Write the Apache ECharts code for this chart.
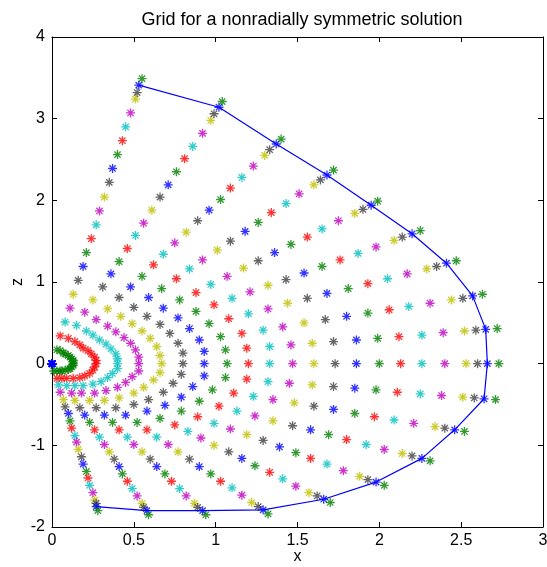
<!DOCTYPE html>
<html>
<head>
    <meta charset="utf-8">
    <title>Grid</title>
    <script src="https://cdn.jsdelivr.net/npm/echarts@6/dist/echarts.min.js"></script>
</head>
<body style="margin:0">
    <div id="main" style="width: 547px;height:567px;"></div>
    <script type="text/javascript">
        // one pair of arrays per ray, 23 points each (inner -> outer)
        var r01x = [0, 0.03, 0.05, 0.08, 0.11, 0.13, 0.16, 0.19, 0.21, 0.24, 0.27, 0.29, 0.32, 0.35, 0.37, 0.40, 0.43, 0.45, 0.48, 0.51, 0.52, 0.53, 0.55];
        var r01z = [0, 0.17, 0.34, 0.51, 0.68, 0.85, 1.02, 1.19, 1.36, 1.53, 1.70, 1.87, 2.04, 2.22, 2.39, 2.56, 2.73, 2.90, 3.07, 3.24, 3.32, 3.41, 3.49];
        var r02x = [0, 0.05, 0.10, 0.15, 0.20, 0.25, 0.31, 0.36, 0.41, 0.46, 0.51, 0.56, 0.61, 0.66, 0.71, 0.76, 0.81, 0.86, 0.92, 0.97, 0.99, 1.02, 1.04];
        var r02z = [0, 0.16, 0.31, 0.47, 0.63, 0.78, 0.94, 1.10, 1.25, 1.41, 1.57, 1.72, 1.88, 2.04, 2.19, 2.35, 2.51, 2.66, 2.82, 2.98, 3.06, 3.14, 3.21];
        var r03x = [0, 0.07, 0.14, 0.21, 0.27, 0.34, 0.41, 0.48, 0.55, 0.62, 0.68, 0.75, 0.82, 0.89, 0.96, 1.03, 1.09, 1.16, 1.23, 1.30, 1.33, 1.37, 1.40];
        var r03z = [0, 0.13, 0.27, 0.40, 0.54, 0.67, 0.81, 0.94, 1.07, 1.21, 1.34, 1.48, 1.61, 1.75, 1.88, 2.01, 2.15, 2.28, 2.42, 2.55, 2.62, 2.69, 2.75];
        var r04x = [0, 0.08, 0.17, 0.25, 0.34, 0.42, 0.50, 0.59, 0.67, 0.76, 0.84, 0.92, 1.01, 1.09, 1.18, 1.26, 1.34, 1.43, 1.51, 1.60, 1.64, 1.68, 1.72];
        var r04z = [0, 0.12, 0.23, 0.35, 0.46, 0.58, 0.69, 0.81, 0.92, 1.04, 1.16, 1.27, 1.39, 1.50, 1.62, 1.73, 1.85, 1.96, 2.08, 2.19, 2.25, 2.31, 2.37];
        var r05x = [0, 0.10, 0.19, 0.29, 0.39, 0.49, 0.58, 0.68, 0.78, 0.88, 0.97, 1.07, 1.17, 1.26, 1.36, 1.46, 1.56, 1.65, 1.75, 1.85, 1.90, 1.95, 1.99];
        var r05z = [0, 0.10, 0.19, 0.29, 0.39, 0.49, 0.58, 0.68, 0.78, 0.87, 0.97, 1.07, 1.17, 1.26, 1.36, 1.46, 1.55, 1.65, 1.75, 1.84, 1.89, 1.94, 1.99];
        var r06x = [0, 0.11, 0.22, 0.33, 0.44, 0.55, 0.66, 0.77, 0.88, 0.99, 1.10, 1.21, 1.32, 1.43, 1.54, 1.65, 1.76, 1.87, 1.98, 2.09, 2.14, 2.20, 2.25];
        var r06z = [0, 0.08, 0.16, 0.24, 0.32, 0.40, 0.48, 0.56, 0.64, 0.72, 0.80, 0.88, 0.96, 1.03, 1.11, 1.19, 1.27, 1.35, 1.43, 1.51, 1.55, 1.59, 1.63];
        var r07x = [0, 0.12, 0.24, 0.36, 0.48, 0.60, 0.72, 0.84, 0.96, 1.08, 1.20, 1.32, 1.44, 1.56, 1.68, 1.81, 1.93, 2.05, 2.17, 2.29, 2.35, 2.41, 2.47];
        var r07z = [0, 0.06, 0.12, 0.18, 0.25, 0.31, 0.37, 0.43, 0.49, 0.55, 0.61, 0.67, 0.74, 0.80, 0.86, 0.92, 0.98, 1.04, 1.10, 1.16, 1.19, 1.23, 1.26];
        var r08x = [0, 0.13, 0.26, 0.39, 0.51, 0.64, 0.77, 0.90, 1.03, 1.16, 1.29, 1.41, 1.54, 1.67, 1.80, 1.93, 2.06, 2.18, 2.31, 2.44, 2.51, 2.57, 2.63];
        var r08z = [0, 0.04, 0.08, 0.12, 0.17, 0.21, 0.25, 0.29, 0.33, 0.37, 0.41, 0.45, 0.50, 0.54, 0.58, 0.62, 0.66, 0.70, 0.74, 0.78, 0.80, 0.83, 0.85];
        var r09x = [0, 0.13, 0.27, 0.40, 0.53, 0.66, 0.80, 0.93, 1.06, 1.19, 1.33, 1.46, 1.59, 1.72, 1.86, 1.99, 2.12, 2.26, 2.39, 2.52, 2.59, 2.65, 2.72];
        var r09z = [0, 0.02, 0.04, 0.06, 0.08, 0.10, 0.13, 0.15, 0.17, 0.19, 0.21, 0.23, 0.25, 0.27, 0.29, 0.31, 0.33, 0.35, 0.38, 0.40, 0.41, 0.42, 0.43];
        var r10x = [0, 0.13, 0.27, 0.40, 0.53, 0.67, 0.80, 0.93, 1.07, 1.20, 1.33, 1.47, 1.60, 1.73, 1.86, 2.00, 2.13, 2.26, 2.40, 2.53, 2.60, 2.66, 2.73];
        var r10z = [0, 0, 0, 0, 0, 0, 0, 0, 0, 0, 0, 0, 0, 0, 0, 0, 0, 0, 0, 0, 0, 0, 0];
        var r11x = [0, 0.13, 0.26, 0.40, 0.53, 0.66, 0.79, 0.93, 1.06, 1.19, 1.32, 1.45, 1.59, 1.72, 1.85, 1.98, 2.11, 2.25, 2.38, 2.51, 2.58, 2.64, 2.71];
        var r11z = [0, -0.02, -0.04, -0.06, -0.09, -0.11, -0.13, -0.15, -0.17, -0.19, -0.22, -0.24, -0.26, -0.28, -0.30, -0.32, -0.35, -0.37, -0.39, -0.41, -0.42, -0.43, -0.44];
        var r12x = [0, 0.12, 0.25, 0.37, 0.49, 0.62, 0.74, 0.86, 0.98, 1.11, 1.23, 1.35, 1.48, 1.60, 1.72, 1.85, 1.97, 2.09, 2.21, 2.34, 2.40, 2.46, 2.52];
        var r12z = [0, -0.04, -0.08, -0.12, -0.16, -0.20, -0.24, -0.28, -0.32, -0.36, -0.40, -0.44, -0.48, -0.52, -0.56, -0.61, -0.65, -0.69, -0.73, -0.77, -0.79, -0.81, -0.83];
        var r13x = [0, 0.11, 0.23, 0.34, 0.45, 0.56, 0.68, 0.79, 0.90, 1.02, 1.13, 1.24, 1.35, 1.47, 1.58, 1.69, 1.80, 1.92, 2.03, 2.14, 2.20, 2.26, 2.31];
        var r13z = [0, -0.06, -0.12, -0.17, -0.23, -0.29, -0.35, -0.41, -0.46, -0.52, -0.58, -0.64, -0.70, -0.76, -0.81, -0.87, -0.93, -0.99, -1.05, -1.10, -1.13, -1.16, -1.19];
        var r14x = [0, 0.10, 0.20, 0.30, 0.40, 0.50, 0.59, 0.69, 0.79, 0.89, 0.99, 1.09, 1.19, 1.29, 1.39, 1.49, 1.58, 1.68, 1.78, 1.88, 1.93, 1.98, 2.03];
        var r14z = [0, -0.07, -0.15, -0.22, -0.29, -0.36, -0.44, -0.51, -0.58, -0.65, -0.73, -0.80, -0.87, -0.94, -1.02, -1.09, -1.16, -1.23, -1.31, -1.38, -1.42, -1.45, -1.49];
        var r15x = [0, 0.08, 0.17, 0.25, 0.33, 0.41, 0.50, 0.58, 0.66, 0.75, 0.83, 0.91, 0.99, 1.08, 1.16, 1.24, 1.33, 1.41, 1.49, 1.57, 1.62, 1.66, 1.70];
        var r15z = [0, -0.08, -0.17, -0.25, -0.33, -0.42, -0.50, -0.58, -0.67, -0.75, -0.83, -0.91, -1.00, -1.08, -1.16, -1.25, -1.33, -1.41, -1.50, -1.58, -1.62, -1.66, -1.70];
        var r16x = [0, 0.06, 0.13, 0.19, 0.26, 0.32, 0.39, 0.45, 0.52, 0.58, 0.64, 0.71, 0.77, 0.84, 0.90, 0.97, 1.03, 1.10, 1.16, 1.22, 1.26, 1.29, 1.32];
        var r16z = [0, -0.09, -0.18, -0.27, -0.36, -0.45, -0.54, -0.63, -0.72, -0.81, -0.90, -0.99, -1.08, -1.17, -1.26, -1.35, -1.44, -1.52, -1.61, -1.70, -1.75, -1.79, -1.84];
        var r17x = [0, 0.05, 0.09, 0.14, 0.18, 0.23, 0.27, 0.32, 0.37, 0.41, 0.46, 0.50, 0.55, 0.60, 0.64, 0.69, 0.73, 0.78, 0.82, 0.87, 0.89, 0.92, 0.94];
        var r17z = [0, -0.09, -0.18, -0.27, -0.36, -0.45, -0.54, -0.63, -0.72, -0.81, -0.90, -0.99, -1.08, -1.17, -1.26, -1.35, -1.44, -1.53, -1.62, -1.71, -1.76, -1.80, -1.85];
        var r18x = [0, 0.03, 0.06, 0.09, 0.12, 0.14, 0.17, 0.20, 0.23, 0.26, 0.29, 0.32, 0.35, 0.38, 0.41, 0.43, 0.46, 0.49, 0.52, 0.55, 0.56, 0.58, 0.59];
        var r18z = [0, -0.09, -0.18, -0.27, -0.36, -0.45, -0.54, -0.63, -0.72, -0.81, -0.90, -0.99, -1.08, -1.17, -1.26, -1.35, -1.44, -1.53, -1.62, -1.71, -1.76, -1.80, -1.85];
        var r19x = [0, 0.01, 0.03, 0.04, 0.05, 0.07, 0.08, 0.10, 0.11, 0.12, 0.14, 0.15, 0.16, 0.18, 0.19, 0.21, 0.22, 0.23, 0.25, 0.26, 0.27, 0.27, 0.28];
        var r19z = [0, -0.09, -0.18, -0.26, -0.35, -0.44, -0.53, -0.61, -0.70, -0.79, -0.88, -0.96, -1.05, -1.14, -1.23, -1.32, -1.40, -1.49, -1.58, -1.67, -1.71, -1.75, -1.80];

        var xTicks = [0, 0.5, 1, 1.5, 2, 2.5, 3];
        var zTicks = [-2, -1, 0, 1, 2, 3, 4];
        // matlab colour order b g r c m y k
        var colors = ['#0000ff', '#008000', '#ff0000', '#00bfbf', '#bf00bf', '#bfbf00', '#404040'];
        var boundaryShell = 21; // index of the shell drawn with the blue line

        var raysX = [r01x, r02x, r03x, r04x, r05x, r06x, r07x, r08x, r09x, r10x, r11x, r12x, r13x, r14x, r15x, r16x, r17x, r18x, r19x];
        var raysZ = [r01z, r02z, r03z, r04z, r05z, r06z, r07z, r08z, r09z, r10z, r11z, r12z, r13z, r14z, r15z, r16z, r17z, r18z, r19z];

        var star = 'path://M0,5L10,5M5,0L5,10M1.5,1.5L8.5,8.5M1.5,8.5L8.5,1.5';
        var font = 'Liberation Sans, Arial, Helvetica, sans-serif';

        var series = [];
        for (var k = 0; k < r01x.length; k++) {
            var pts = [];
            for (var r = 0; r < raysX.length; r++) {
                pts.push([raysX[r][k], raysZ[r][k]]);
            }
            series.push({
                type: 'scatter',
                data: pts,
                symbol: star,
                symbolSize: 9,
                silent: true,
                itemStyle: {
                    color: 'rgba(0,0,0,0)',
                    borderColor: colors[k % 7],
                    borderWidth: 1.3
                }
            });
        }
        var edge = [];
        for (var r = 0; r < raysX.length; r++) {
            edge.push([raysX[r][boundaryShell], raysZ[r][boundaryShell]]);
        }
        series.push({
            type: 'line',
            data: edge,
            showSymbol: false,
            silent: true,
            z: 3,
            lineStyle: { color: '#0000ff', width: 1.2 }
        });

        var myChart = echarts.init(document.getElementById('main'));
        var tickStyle = { show: true, inside: true, length: 5, lineStyle: { color: '#000' } };
        var lineStyle = { show: true, onZero: false, lineStyle: { color: '#000', width: 1 } };
        var option = {
            animation: false,
            backgroundColor: '#fff',
            title: {
                text: 'Grid for a nonradially symmetric solution',
                left: 297,
                top: 6,
                textAlign: 'center',
                textStyle: { fontSize: 18, fontWeight: 'normal', color: '#000', fontFamily: font }
            },
            grid: { left: 52, right: 4, top: 37, bottom: 40, containLabel: false, outerBoundsMode: 'none' },
            xAxis: [{
                type: 'value',
                min: xTicks[0],
                max: xTicks[xTicks.length - 1],
                interval: 0.5,
                name: 'x',
                nameLocation: 'middle',
                nameGap: 22,
                nameMoveOverlap: false,
                nameTextStyle: { fontSize: 16, color: '#000', fontFamily: font },
                axisLine: lineStyle,
                axisTick: tickStyle,
                splitLine: { show: false },
                axisLabel: { fontSize: 16, color: '#000', margin: 6, fontFamily: font }
            }, {
                type: 'value',
                position: 'top',
                min: xTicks[0],
                max: xTicks[xTicks.length - 1],
                interval: 0.5,
                axisLine: lineStyle,
                axisTick: tickStyle,
                splitLine: { show: false },
                axisLabel: { show: false }
            }],
            yAxis: [{
                type: 'value',
                min: zTicks[0],
                max: zTicks[zTicks.length - 1],
                interval: 1,
                name: 'z',
                nameLocation: 'middle',
                nameRotate: 90,
                nameGap: 26,
                nameMoveOverlap: false,
                nameTextStyle: { fontSize: 16, color: '#000', fontFamily: font },
                axisLine: lineStyle,
                axisTick: tickStyle,
                splitLine: { show: false },
                axisLabel: { fontSize: 16, color: '#000', margin: 7, fontFamily: font }
            }, {
                type: 'value',
                position: 'right',
                min: zTicks[0],
                max: zTicks[zTicks.length - 1],
                interval: 1,
                axisLine: lineStyle,
                axisTick: tickStyle,
                splitLine: { show: false },
                axisLabel: { show: false }
            }],
            series: series
        };
        myChart.setOption(option);
    </script>
</body>
</html>
